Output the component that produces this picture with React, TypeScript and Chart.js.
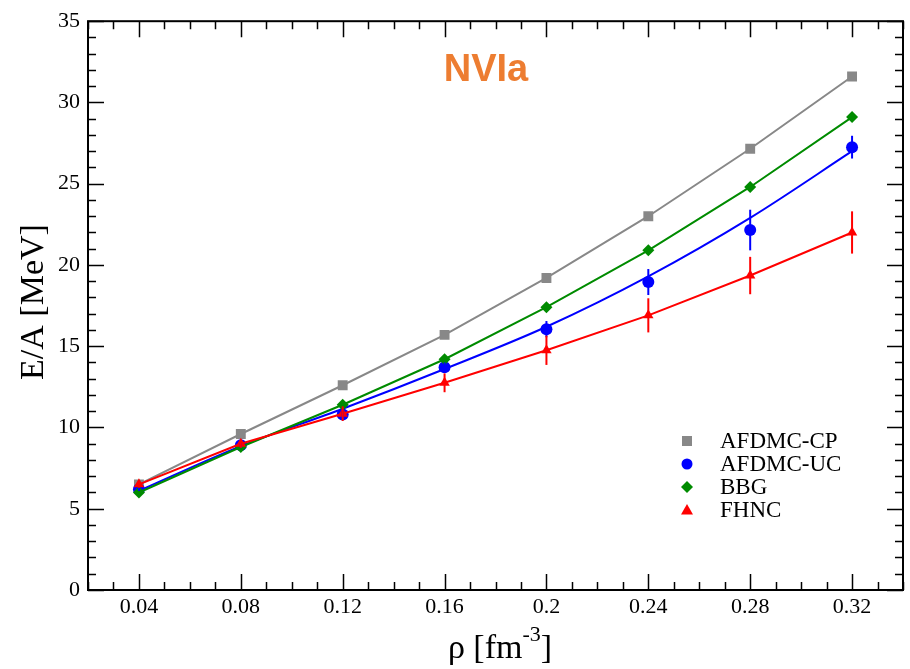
import React, { useEffect, useRef } from "react";
import { Chart, registerables } from "chart.js";

Chart.register(...registerables);

// ---- data ----
const rho = [0.04, 0.08, 0.12, 0.16, 0.2, 0.24, 0.28, 0.32];
const xTickValues = [0.04, 0.08, 0.12, 0.16, 0.2, 0.24, 0.28, 0.32];
const xTickLabels = ["0.04", "0.08", "0.12", "0.16", "0.2", "0.24", "0.28", "0.32"];
const yTickValues = [0, 5, 10, 15, 20, 25, 30, 35];
const yTickLabels = ["0", "5", "10", "15", "20", "25", "30", "35"];

const cpValues = [6.5, 9.6, 12.6, 15.7, 19.2, 23.0, 27.15, 31.6];
const ucValues = [6.2, 8.9, 10.8, 13.7, 16.05, 18.95, 22.15, 27.25];
const ucErrors = [0.1, 0.15, 0.3, 0.3, 0.5, 0.8, 1.25, 0.7];
const ucFit = [6.1, 8.85, 11.15, 13.6, 16.2, 19.3, 22.9, 27.0];
const bbgValues = [6.0, 8.8, 11.4, 14.2, 17.4, 20.9, 24.8, 29.1];
const fhncValues = [6.5, 9.0, 10.85, 12.75, 14.75, 16.9, 19.35, 22.0];
const fhncErrors = [0.2, 0.25, 0.45, 0.58, 0.9, 1.05, 1.15, 1.3];

const seriesNames = ["AFDMC-CP", "AFDMC-UC", "BBG", "FHNC"];
const titleText = "NVIa";

// ---- style ----
const GRAY = "rgb(136,136,136)";
const BLUE = "rgb(0,0,255)";
const GREEN = "rgb(0,139,0)";
const RED = "rgb(255,0,0)";
const ORANGE = "rgb(237,125,49)";
const SERIF = "'Liberation Serif', 'Times New Roman', serif";
const SANS = "'Liberation Sans', Arial, sans-serif";

const pts = (ys: number[]) => rho.map((x, i) => ({ x, y: ys[i] }));

const decorPlugin = {
  id: "decor",
  afterDatasetsDraw(chart: any) {
    const ctx = chart.ctx;
    const xs = chart.scales.x;
    const ys = chart.scales.y;
    const drawErr = (vals: number[], errs: number[], color: string) => {
      ctx.save();
      ctx.strokeStyle = color;
      ctx.lineWidth = 2;
      vals.forEach((v, i) => {
        const px = xs.getPixelForValue(rho[i]);
        ctx.beginPath();
        ctx.moveTo(px, ys.getPixelForValue(v - errs[i]));
        ctx.lineTo(px, ys.getPixelForValue(v + errs[i]));
        ctx.stroke();
      });
      ctx.restore();
    };
    drawErr(ucValues, ucErrors, BLUE);
    drawErr(fhncValues, fhncErrors, RED);
  },
  afterDraw(chart: any) {
    const ctx = chart.ctx;
    const xs = chart.scales.x;
    const ys = chart.scales.y;
    const { left, right, top, bottom } = chart.chartArea;
    ctx.save();
    // frame
    ctx.strokeStyle = "#000";
    ctx.lineWidth = 2;
    ctx.strokeRect(left, top, right - left, bottom - top);
    // ticks (inward, all four sides)
    ctx.lineWidth = 1.5;
    ctx.beginPath();
    for (let k = 2; k <= 34; k++) {
      const v = k / 100;
      const px = Math.round(xs.getPixelForValue(v)) + 0.5;
      const len = k % 4 === 0 ? 16 : 8;
      ctx.moveTo(px, bottom);
      ctx.lineTo(px, bottom - len);
      ctx.moveTo(px, top);
      ctx.lineTo(px, top + len);
    }
    for (let v = 0; v <= 35; v++) {
      const py = Math.round(ys.getPixelForValue(v)) + 0.5;
      const len = v % 5 === 0 ? 16 : 8;
      ctx.moveTo(left, py);
      ctx.lineTo(left + len, py);
      ctx.moveTo(right, py);
      ctx.lineTo(right - len, py);
    }
    ctx.stroke();

    // title
    ctx.fillStyle = ORANGE;
    ctx.font = `bold 38px ${SANS}`;
    ctx.textAlign = "center";
    ctx.textBaseline = "alphabetic";
    ctx.fillText(titleText, 486, 81);

    // y axis title
    ctx.fillStyle = "#000";
    ctx.save();
    ctx.translate(43, 302);
    ctx.rotate(-Math.PI / 2);
    ctx.font = `34px ${SERIF}`;
    ctx.textAlign = "center";
    ctx.textBaseline = "alphabetic";
    ctx.fillText("E/A [MeV]", 0, 0);
    ctx.restore();

    // x axis title with superscript
    ctx.textAlign = "left";
    ctx.textBaseline = "alphabetic";
    const main = "ρ [fm";
    const sup = "-3";
    const close = "]";
    ctx.font = `34px ${SERIF}`;
    const w1 = ctx.measureText(main).width;
    const w3 = ctx.measureText(close).width;
    ctx.font = `22px ${SERIF}`;
    const w2 = ctx.measureText(sup).width;
    const total = w1 + w2 + w3;
    const x0 = 500 - total / 2;
    const base = 658;
    ctx.font = `34px ${SERIF}`;
    ctx.fillText(main, x0, base);
    ctx.font = `22px ${SERIF}`;
    ctx.fillText(sup, x0 + w1, base - 17);
    ctx.font = `34px ${SERIF}`;
    ctx.fillText(close, x0 + w1 + w2, base);

    // legend
    const legendX = 687;
    const textX = 720;
    const rowsY = [441, 464, 487, 510];
    const colors = [GRAY, BLUE, GREEN, RED];
    ctx.font = `23px ${SERIF}`;
    ctx.textBaseline = "middle";
    rowsY.forEach((yy, i) => {
      ctx.fillStyle = colors[i];
      ctx.beginPath();
      if (i === 0) {
        ctx.rect(legendX - 5, yy - 5, 10, 10);
      } else if (i === 1) {
        ctx.arc(legendX, yy, 5.5, 0, Math.PI * 2);
      } else if (i === 2) {
        ctx.moveTo(legendX, yy - 6);
        ctx.lineTo(legendX + 6, yy);
        ctx.lineTo(legendX, yy + 6);
        ctx.lineTo(legendX - 6, yy);
        ctx.closePath();
      } else {
        ctx.moveTo(legendX, yy - 6);
        ctx.lineTo(legendX + 6, yy + 4.5);
        ctx.lineTo(legendX - 6, yy + 4.5);
        ctx.closePath();
      }
      ctx.fill();
      ctx.fillStyle = "#000";
      ctx.fillText(seriesNames[i], textX, yy + 1);
    });
    ctx.restore();
  },
};

export default function App() {
  const ref = useRef<HTMLCanvasElement | null>(null);
  useEffect(() => {
    document.body.style.margin = "0";
    const canvas = ref.current;
    if (!canvas) return;
    const chart = new Chart(canvas, {
      type: "scatter",
      data: {
        datasets: [
          {
            label: seriesNames[0],
            data: pts(cpValues),
            showLine: true,
            borderColor: GRAY,
            backgroundColor: GRAY,
            borderWidth: 2,
            pointStyle: "rect",
            pointRadius: 7,
            pointBorderWidth: 0,
            order: 4,
          },
          {
            label: "AFDMC-UC fit",
            data: pts(ucFit),
            showLine: true,
            borderColor: BLUE,
            backgroundColor: BLUE,
            borderWidth: 2,
            pointRadius: 0,
            tension: 0.3,
            cubicInterpolationMode: "monotone",
            order: 3,
          },
          {
            label: seriesNames[1],
            data: pts(ucValues),
            showLine: false,
            borderColor: BLUE,
            backgroundColor: BLUE,
            pointStyle: "circle",
            pointRadius: 6,
            pointBorderWidth: 0,
            order: 3,
          },
          {
            label: seriesNames[2],
            data: pts(bbgValues),
            showLine: true,
            borderColor: GREEN,
            backgroundColor: GREEN,
            borderWidth: 2,
            pointStyle: "rectRot",
            pointRadius: 6,
            pointBorderWidth: 0,
            order: 2,
          },
          {
            label: seriesNames[3],
            data: pts(fhncValues),
            showLine: true,
            borderColor: RED,
            backgroundColor: RED,
            borderWidth: 2,
            pointStyle: "triangle",
            pointRadius: 6,
            pointBorderWidth: 0,
            order: 1,
          },
        ],
      },
      options: {
        animation: false,
        responsive: false,
        maintainAspectRatio: false,
        layout: { padding: { top: 15, right: 2, left: 0, bottom: 0 } },
        plugins: {
          legend: { display: false },
          title: { display: false },
          tooltip: { enabled: false },
        },
        scales: {
          x: {
            type: "linear",
            min: 0.02,
            max: 0.34,
            grid: { display: false, drawTicks: false },
            border: { display: false },
            afterBuildTicks: (s: any) => {
              s.ticks = xTickValues.map((v) => ({ value: v }));
            },
            afterFit: (s: any) => {
              s.height = 79;
            },
            ticks: {
              autoSkip: false,
              maxRotation: 0,
              padding: 4,
              color: "#000",
              font: { family: SERIF, size: 22 },
              callback: (_v: any, i: number) => xTickLabels[i],
            },
          },
          y: {
            type: "linear",
            min: 0,
            max: 35,
            grid: { display: false, drawTicks: false },
            border: { display: false },
            afterBuildTicks: (s: any) => {
              s.ticks = yTickValues.map((v) => ({ value: v }));
            },
            afterFit: (s: any) => {
              s.width = 88;
            },
            ticks: {
              autoSkip: false,
              padding: 8,
              color: "#000",
              font: { family: SERIF, size: 22 },
              callback: (_v: any, i: number) => yTickLabels[i],
            },
          },
        },
      },
      plugins: [decorPlugin],
    } as any);
    return () => chart.destroy();
  }, []);
  return (
    <div style={{ width: 910, height: 669 }}>
      <canvas ref={ref} width={910} height={669} style={{ display: "block" }} />
    </div>
  );
}
